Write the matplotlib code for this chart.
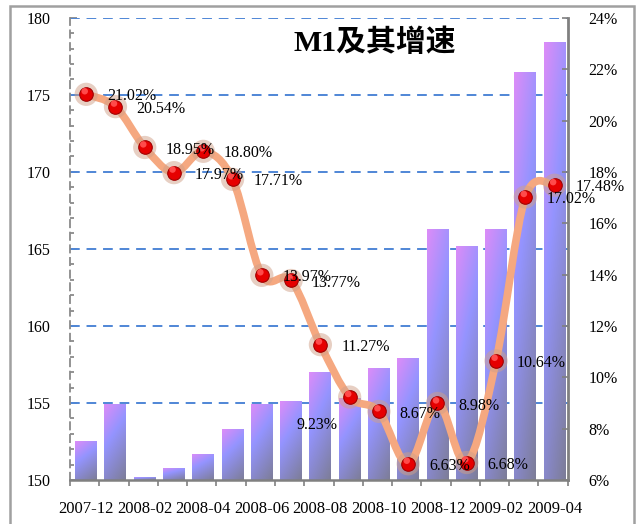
import matplotlib.pyplot as plt
import numpy as np
from matplotlib.path import Path
from matplotlib.patches import PathPatch, Rectangle
from matplotlib.colors import LinearSegmentedColormap

plt.rcParams['font.family'] = ['Liberation Serif', 'Noto Sans CJK SC', 'DejaVu Sans']

months = ['2007-12', '2008-01', '2008-02', '2008-03', '2008-04', '2008-05',
          '2008-06', '2008-07', '2008-08', '2008-09', '2008-10', '2008-11',
          '2008-12', '2009-01', '2009-02', '2009-03', '2009-04']
# M1 余额（千亿元）
m1 = [152.5, 154.9, 150.2, 150.8, 151.7, 153.3, 154.9, 155.1, 157.0,
      155.3, 157.3, 157.9, 166.3, 165.2, 166.3, 176.5, 178.4]
# 同比增速（%）
growth = [21.02, 20.54, 18.95, 17.97, 18.80, 17.71, 13.97, 13.77, 11.27,
          9.23, 8.67, 6.63, 8.98, 6.68, 10.64, 17.02, 17.48]

fig = plt.figure(figsize=(6.43, 5.24), dpi=100)
ax = fig.add_axes([0.109, 0.084, 0.774, 0.882])
x = np.arange(len(months))

# 柱子：渐变填充
bars = ax.bar(x, m1, width=0.75, bottom=0, color='none', edgecolor='none', zorder=2)
cmap = LinearSegmentedColormap.from_list(
    'barfill', [(0, '#dc8cf8'), (0.4, '#9494ff'), (1.0, '#7d7d98')])
uu, vv = np.meshgrid(np.linspace(0, 1, 32), np.linspace(0, 1, 64))
grad = 0.7 * vv + 0.3 * uu
for b in bars:
    x0, w, h = b.get_x(), b.get_width(), b.get_height()
    im = ax.imshow(grad, cmap=cmap, vmin=0, vmax=1, extent=[x0, x0 + w, 150, h],
                   origin='upper', aspect='auto', zorder=2, interpolation='bilinear')
    im.set_clip_path(Rectangle((x0, 150), w, h - 150, transform=ax.transData))

ax.set_xlim(-0.55, 16.45)
ax.set_ylim(150, 180)
ax.set_aspect('auto')
ax.set_yticks(np.arange(150, 181, 5))
ax.set_yticks(np.arange(150, 181, 1), minor=True)
ax.set_xticks(x[::2])
ax.set_xticklabels(months[::2], fontsize=12)
ax.set_xticks(np.arange(-0.55, 16.5, 1.0), minor=True)
ax.tick_params(axis='x', which='major', length=0, pad=15)
ax.tick_params(axis='x', which='minor', direction='out', length=4, color='#808080', width=1.2)
ax.tick_params(axis='y', which='both', direction='in', color='#808080', width=1.2, labelsize=11.5, pad=14)
ax.tick_params(axis='y', which='major', length=5)
ax.tick_params(axis='y', which='minor', length=3)

ax.set_axisbelow(True)
for yv in range(155, 181, 5):
    ax.axhline(yv, color='#4f86d6', lw=1.4, ls=(0, (5, 3.5)), zorder=1)

for s in ['top', 'right']:
    ax.spines[s].set_visible(False)
ax.spines['left'].set_color('#8a8a8a')
ax.spines['left'].set_linestyle((0, (4, 3)))
ax.spines['left'].set_linewidth(1.3)
ax.spines['bottom'].set_color('#808080')
ax.spines['bottom'].set_linewidth(1.8)

# 右轴：增速
ax2 = ax.twinx()
ax2.set_ylim(6, 24)
ax2.set_yticks(np.arange(6, 25, 2))
ax2.set_yticklabels(['%d%%' % v for v in range(6, 25, 2)])
ax2.tick_params(axis='y', direction='in', length=4, color='#808080', width=1.2, labelsize=11.5, pad=15)
for s in ['top', 'left', 'bottom']:
    ax2.spines[s].set_visible(False)
ax2.spines['right'].set_color('#808080')
ax2.spines['right'].set_linewidth(2)

# 平滑曲线（贝塞尔）
pts = np.column_stack([x, growth]).astype(float)
ext = np.vstack([pts[0], pts, pts[-1]])
verts = [tuple(pts[0])]
codes = [Path.MOVETO]
for i in range(len(pts) - 1):
    p0, p1, p2, p3 = ext[i], ext[i + 1], ext[i + 2], ext[i + 3]
    c1 = p1 + (p2 - p0) / 6
    c2 = p2 - (p3 - p1) / 6
    verts += [tuple(c1), tuple(c2), tuple(p2)]
    codes += [Path.CURVE4] * 3
ax2.add_patch(PathPatch(Path(verts, codes), fc='none', ec='#f5a880', lw=5.5,
                        capstyle='round', joinstyle='round', zorder=3))

# 数据点
ax2.scatter(x, growth, s=280, color='#d0a088', alpha=0.5, edgecolors='none', zorder=4)
ax2.scatter(x, growth, s=95, color='#e60000', edgecolors='#a00000', linewidths=0.8, zorder=5)
ax2.scatter(x - 0.05, np.array(growth) + 0.12, s=22, color='#ff4a4a', edgecolors='none', zorder=6)

for i, g in enumerate(growth):
    off = (15, -1.5)
    if months[i] == '2008-09':
        off = (-38, -20)
    ax2.annotate('%.2f%%' % g, xy=(i, g), xytext=off, textcoords='offset points',
                 ha='left', va='center', fontsize=11.5, zorder=7)

fig.text(0.456, 0.918, 'M1及其增速', fontsize=21.5, fontweight='bold', va='center', ha='left')

# 外框
fig.add_artist(Rectangle((0.0156, -0.02), 0.970, 1.0085, transform=fig.transFigure,
                         fill=False, ec='#a0a0a0', lw=1.8))

fig.savefig('out.png', dpi=100)
